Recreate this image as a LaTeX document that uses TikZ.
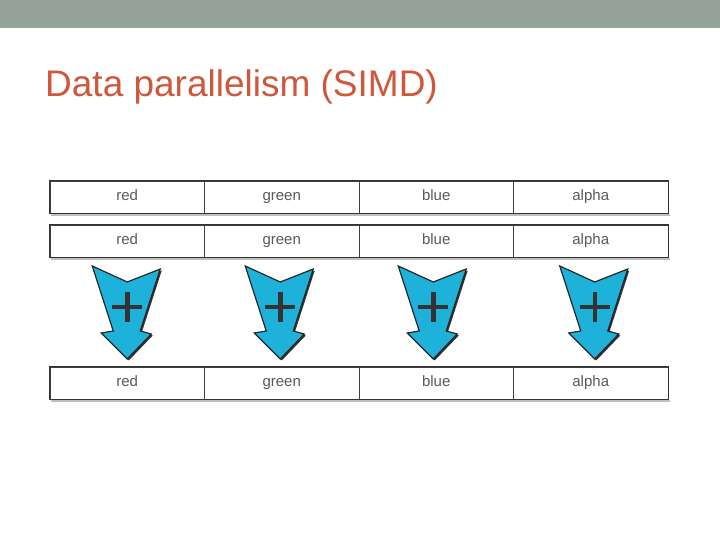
\documentclass[tikz,border=0pt]{standalone}
\usepackage{fontspec}
\setmainfont{Liberation Sans}
\usetikzlibrary{calc}
\definecolor{bandgrey}{HTML}{95A39A}
\definecolor{titlered}{HTML}{CF573C}
\definecolor{addblue}{HTML}{1EB2DA}
\tikzset{
  cell/.style={draw=black!75,line width=0.9pt,minimum width=154.5pt,minimum height=32pt,
    inner sep=0pt,text height=10pt,text depth=3pt,font=\fontsize{15}{15}\selectfont,text=black!65},
  rowline/.style={draw=black!80,line width=1.6pt},
  rowshadow/.style={draw=black!25,line width=1.6pt},
  addarrow/.pic={
    \fill[black!80,shift={(1.5,1.5)}] (-35,-46) -- (0,-30) -- (33,-43) -- (13,19) -- (24,22)
      -- (0,47) -- (-26,21) -- (-14,19) -- cycle;
    \filldraw[fill=addblue,draw=black!85,line width=1.2pt,line join=miter] (-35,-46) -- (0,-30)
      -- (33,-43) -- (13,19) -- (24,22) -- (0,47) -- (-26,21) -- (-14,19) -- cycle;
    \draw[line width=4.5pt,black!80] (-15,-5) -- (15,-5) (0,-20) -- (0,10);
  }
}

\begin{document}
\begin{tikzpicture}[x=1pt,y=-1pt]
  \useasboundingbox (0,0) rectangle (720,540);
  \fill[bandgrey] (0,0) rectangle (720,28);
  \node[anchor=base west,text=titlered,font=\fontsize{37}{37}\selectfont,inner sep=0pt] (title) at (45,97) {Data parallelism (SIMD)};

  % three registers: two operands and the result
  \foreach \c/\word in {1/red,2/green,3/blue,4/alpha} {
    \node[cell] (a\c) at ({50+154.5*(\c-0.5)},197) {\word};
    \node[cell] (b\c) at ({50+154.5*(\c-0.5)},241) {\word};
    \node[cell] (c\c) at ({50+154.5*(\c-0.5)},383) {\word};
  }
  \foreach \r in {a,b,c} {
    \draw[rowshadow] ([shift={(1.5,1.5)}]\r1.south west) -- ([shift={(1.5,1.5)}]\r4.south east);
    \draw[rowline] (\r1.north west) rectangle (\r4.south east);
  }

  % one add per lane
  \foreach \c/\dx in {1/0,2/-1.5,3/-3,4/4} {
    \pic at ($(b\c.south)!0.5!(c\c.north)+(\dx,0)$) {addarrow};
  }
\end{tikzpicture}
\end{document}
